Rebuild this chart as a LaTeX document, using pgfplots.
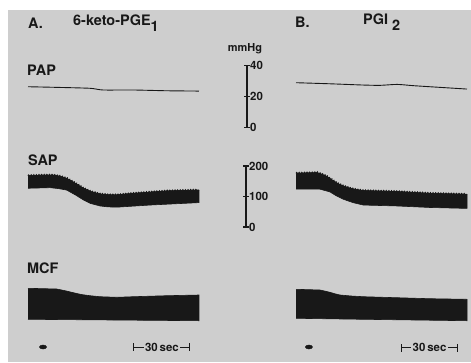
\documentclass[border=0pt]{standalone}
\usepackage{pgfplots}
\pgfplotsset{compat=1.18}
\usepackage{pgfplotstable}
\usetikzlibrary{decorations.pathmorphing}
\usepackage{fontspec}
\setmainfont{TeX Gyre Heros}
\definecolor{bg}{RGB}{206,206,206}
\definecolor{ink}{RGB}{24,24,24}

% PAP (mmHg) vs time (sec)
\pgfplotstableread{
t v
0 26.3
15 25.9
32.6 25.3
39.5 24.2
55.3 24.2
73.2 23.7
90 23.5
}\papA
\pgfplotstableread{
t v
0 28.9
17.9 28.2
35.3 27.4
44.2 27.2
53.2 27.8
61.6 27.0
70.5 26.3
90 24.8
}\papB
% SAP systolic envelopes (mmHg)
\pgfplotstableread{
t v
0 168
6 169.5
13.3 170
17 166
20.4 159
25 143
29.1 127
33 116
37.9 108
42 105.5
46.7 105
55.4 110
73 118
90 121
}\sapAtop
\pgfplotstableread{
t v
0 176
11.1 178
14 172
16.4 165
19 154
21.7 143
25 134
28.4 127
32 122
35.4 119
53 116
70.5 110
90 107
}\sapBtop

\pgfplotsset{
  trace/.style={hide axis, scale only axis, clip=false, width=171bp,
    xmin=0, xmax=90, anchor=south west},
}
\tikzset{
  lbl/.style={font=\fontsize{14.5}{15}\selectfont\bfseries, text=ink, inner sep=0pt},
  num/.style={font=\fontsize{11.5}{12}\selectfont\bfseries, text=ink, anchor=west, inner sep=0pt},
}

\begin{document}
\begin{tikzpicture}[x=1bp,y=1bp]
\fill[white] (0,0) rectangle (471,362);
\fill[bg] (8,0) rectangle (471,352);
\coordinate (pA) at (28,234.5);
\coordinate (pB) at (296,234.5);
\coordinate (pS) at (247,234.5);
\coordinate (sA) at (28,135);
\coordinate (sB) at (296,135);
\coordinate (sS) at (246,135);
\coordinate (mA) at (28,32);
\coordinate (mB) at (296,32);

% titles
\node[lbl, anchor=west] at (28,339) {A.};
\node[lbl, anchor=west] at (73,339) {6-keto-PGE\raisebox{-6bp}{1}};
\node[lbl, anchor=west] at (295,340) {B.};
\node[lbl, anchor=west] at (363,340) {PGI\hspace{4bp}\raisebox{-6bp}{2}};
\node[lbl, anchor=west] at (27,292) {PAP};
\node[lbl, anchor=west] at (28,202) {SAP};
\node[lbl, anchor=west] at (27,94) {MCF};
\node[font=\fontsize{11}{12}\selectfont\bfseries, text=ink, inner sep=0pt] at (245,313) {mmHg};

% ---------- PAP ----------
\begin{axis}[trace, at={(pA)}, height=62bp, ymin=0, ymax=40]
\addplot[ink, line width=0.9bp, smooth, tension=0.4] table[x=t,y=v]{\papA};
\end{axis}
\begin{axis}[trace, at={(pB)}, height=62bp, ymin=0, ymax=40]
\addplot[ink, line width=0.9bp, smooth, tension=0.4] table[x=t,y=v]{\papB};
\end{axis}
% PAP scale
\begin{axis}[hide axis, scale only axis, clip=false, width=10bp, height=62bp,
  xmin=0, xmax=1, ymin=0, ymax=40, anchor=south west, at={(pS)}]
\addplot[ink, line width=1.1bp] coordinates {(0,0) (0,40)};
\addplot[ink, only marks, mark=-, mark size=3bp, mark options={line width=1.1bp}]
  coordinates {(0,0) (0,20) (0,40)};
\node[num] at (axis cs:0,40) {\hspace{3bp}40};
\node[num] at (axis cs:0,20) {\hspace{3bp}20};
\node[num] at (axis cs:0,0) {\hspace{3bp}0};
\end{axis}

% ---------- SAP (band between systolic and diastolic envelopes) ----------
\begin{axis}[trace, at={(sA)}, height=61bp, ymin=0, ymax=200]
\addplot[fill=ink, draw=ink, line width=0.6bp] coordinates {
 (0,168) (6,169.5) (13.3,170) (17,166) (20.4,159) (25,143) (29.1,127) (33,116)
 (37.9,108) (42,105.5) (46.7,105) (55.4,110) (73,118) (90,121)
 (90,80) (64.2,72) (46.7,65) (42,66) (37.9,69) (33,77) (29.1,89) (25,105)
 (20.4,121) (16,126) (11.6,129) (0,127)};
\addplot[ink, line width=1bp, decorate,
  decoration={zigzag, segment length=2.6bp, amplitude=0.8bp}] table[x=t,y=v]{\sapAtop};
\end{axis}
\begin{axis}[trace, at={(sB)}, height=61bp, ymin=0, ymax=200]
\addplot[fill=ink, draw=ink, line width=0.6bp] coordinates {
 (0,176) (11.1,178) (14,172) (16.4,165) (19,154) (21.7,143) (25,134) (28.4,127)
 (32,122) (35.4,119) (53,116) (70.5,110) (90,107)
 (90,61) (70.5,64) (53,69) (35.4,72) (30,80) (24.9,91) (21,103) (17.9,115)
 (15,120) (12.6,124) (0,124)};
\addplot[ink, line width=1bp, decorate,
  decoration={zigzag, segment length=2.6bp, amplitude=0.8bp}] table[x=t,y=v]{\sapBtop};
\end{axis}
% SAP scale
\begin{axis}[hide axis, scale only axis, clip=false, width=10bp, height=61bp,
  xmin=0, xmax=1, ymin=0, ymax=200, anchor=south west, at={(sS)}]
\addplot[ink, line width=1.1bp] coordinates {(0,0) (0,200)};
\addplot[ink, only marks, mark=-, mark size=3bp, mark options={line width=1.1bp}]
  coordinates {(0,0) (0,100) (0,200)};
\node[num] at (axis cs:0,200) {\hspace{3bp}200};
\node[num] at (axis cs:0,100) {\hspace{3bp}100};
\node[num] at (axis cs:0,0) {\hspace{3bp}0};
\end{axis}

% ---------- MCF (arbitrary units) ----------
\begin{axis}[trace, at={(mA)}, height=50bp, ymin=0, ymax=50]
\addplot[fill=ink, draw=ink, line width=0.6bp] coordinates {
 (0,41.7) (15.1,41) (19.5,39.3) (23.9,37.3) (28,35.5) (32.6,34.3) (37.9,33.3)
 (46.7,32.7) (55.4,33.3) (73,34.3) (90,35) (90,9.3) (45,10.0) (0,10.7)};
% injection marker and time bar
\addplot[ink, only marks, mark=*, mark size=2.4bp, mark options={xscale=1.5, yscale=0.85}]
  coordinates {(7.9,-17)};
\addplot[ink, line width=1bp, |-|] coordinates {(55.3,-17) (85.3,-17)};
\node[fill=bg, inner xsep=1.5bp, inner ysep=1bp, font=\fontsize{11.5}{12}\selectfont\bfseries, text=ink]
  at (axis cs:70.5,-17) {30\,sec};
\end{axis}
\begin{axis}[trace, at={(mB)}, height=50bp, ymin=0, ymax=50]
\addplot[fill=ink, draw=ink, line width=0.6bp] coordinates {
 (0,40.7) (12.6,40) (15,39) (17.9,37.7) (20.5,36.2) (23.2,35) (29,34) (35.4,33.3)
 (53,32.3) (70.5,31.3) (90,30.7) (90,9.3) (35.4,10.7) (0,11.7)};
\addplot[ink, only marks, mark=*, mark size=2.4bp, mark options={xscale=1.5, yscale=0.85}]
  coordinates {(6.8,-17)};
\addplot[ink, line width=1bp, |-|] coordinates {(55.1,-17.5) (85.1,-17.5)};
\node[fill=bg, inner xsep=1.5bp, inner ysep=1bp, font=\fontsize{11.5}{12}\selectfont\bfseries, text=ink]
  at (axis cs:70.3,-17.5) {30\,sec};
\end{axis}
\end{tikzpicture}
\end{document}
